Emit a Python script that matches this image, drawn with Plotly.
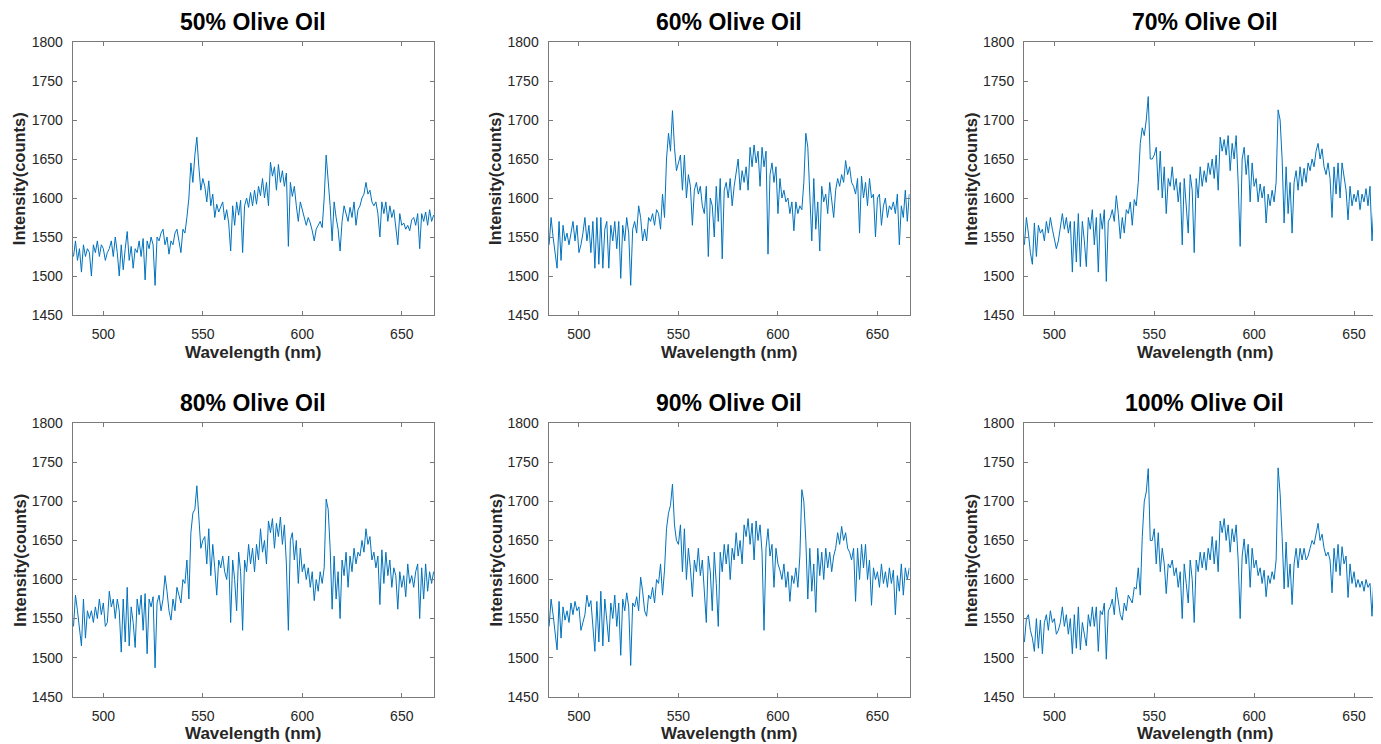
import plotly.graph_objects as go

OFF = 8  # page body margin in the browser
W, H = 1381 - OFF, 744 - OFF

wavelength = list(range(485, 667))

titles = ["50% Olive Oil", "60% Olive Oil", "70% Olive Oil",
          "80% Olive Oil", "90% Olive Oil", "100% Olive Oil"]

oil_50 = [1525,1545,1520,1535,1505,1540,1525,1535,1530,1500,1540,1530,1545,1525,1540,
          1535,1520,1530,1535,1545,1525,1550,1530,1500,1540,1508,1535,1557,1520,1538,
          1510,1535,1530,1545,1525,1548,1495,1545,1535,1550,1540,1488,1550,1545,1555,
          1560,1540,1550,1528,1545,1540,1555,1560,1545,1530,1560,1555,1575,1600,1645,
          1620,1655,1678,1640,1610,1625,1615,1595,1622,1590,1605,1575,1592,1582,1590,
          1595,1572,1585,1568,1532,1590,1565,1595,1578,1597,1530,1590,1600,1588,1607,
          1590,1610,1592,1615,1603,1625,1600,1620,1590,1646,1628,1640,1610,1643,1620,
          1635,1615,1632,1538,1620,1602,1615,1590,1570,1595,1585,1578,1565,1575,1568,
          1558,1545,1560,1566,1570,1562,1600,1655,1625,1590,1545,1595,1575,1560,1532,
          1570,1590,1580,1570,1588,1575,1595,1565,1585,1590,1600,1605,1620,1605,1610,
          1595,1590,1595,1580,1550,1595,1580,1595,1570,1590,1575,1585,1560,1540,1580,
          1565,1568,1560,1565,1558,1572,1575,1565,1580,1535,1580,1570,1582,1565,1585,
          1570,1578]

oil_60 = [1540,1575,1550,1530,1510,1570,1520,1565,1545,1555,1540,1555,1570,1545,1565,
          1530,1540,1555,1575,1545,1565,1530,1570,1510,1575,1515,1575,1510,1560,1570,
          1510,1565,1545,1570,1535,1570,1497,1565,1545,1575,1555,1488,1560,1570,1555,
          1590,1575,1545,1560,1545,1575,1570,1580,1565,1585,1580,1560,1605,1575,1650,
          1683,1660,1712,1665,1635,1645,1655,1610,1655,1600,1630,1615,1565,1610,1620,
          1605,1615,1590,1580,1615,1525,1600,1590,1550,1615,1570,1625,1522,1610,1620,
          1600,1625,1590,1615,1630,1650,1610,1635,1620,1640,1610,1665,1640,1668,1645,
          1660,1615,1665,1640,1660,1528,1630,1645,1620,1640,1580,1625,1600,1610,1595,
          1600,1580,1595,1558,1595,1580,1590,1585,1620,1683,1665,1610,1545,1625,1560,
          1595,1532,1615,1595,1605,1580,1620,1600,1575,1610,1625,1615,1630,1620,1648,
          1630,1640,1620,1615,1605,1625,1555,1628,1600,1620,1590,1625,1600,1605,1550,
          1600,1605,1565,1590,1600,1575,1590,1585,1595,1580,1605,1540,1590,1575,1610,
          1570,1605,1590,1605][:182]

oil_70 = [1540,1575,1555,1530,1515,1568,1525,1565,1555,1560,1545,1570,1555,1575,1560,
          1545,1535,1545,1560,1580,1560,1575,1555,1570,1505,1570,1518,1580,1512,1570,
          1545,1512,1575,1560,1585,1540,1575,1505,1580,1560,1585,1493,1570,1575,1585,
          1570,1603,1580,1548,1575,1555,1585,1580,1595,1565,1598,1590,1620,1670,1690,
          1680,1700,1730,1650,1650,1655,1665,1610,1660,1600,1640,1580,1625,1615,1640,
          1610,1625,1595,1620,1540,1625,1595,1555,1630,1610,1530,1625,1600,1640,1615,
          1635,1620,1645,1630,1650,1625,1655,1610,1678,1660,1675,1655,1680,1635,1670,
          1650,1680,1620,1538,1650,1665,1630,1655,1595,1645,1615,1625,1595,1618,1600,
          1615,1568,1605,1590,1610,1595,1620,1713,1700,1650,1568,1640,1580,1620,1555,
          1620,1635,1610,1640,1615,1638,1620,1645,1635,1650,1640,1660,1670,1650,1663,
          1640,1630,1645,1625,1575,1640,1605,1645,1600,1645,1625,1610,1572,1615,1590,
          1605,1595,1610,1585,1605,1595,1612,1590,1615,1545,1595,1580,1615,1600,1610,
          1600,1605]

oil_80 = [1540,1580,1560,1535,1515,1575,1525,1560,1550,1560,1545,1565,1550,1575,1555,
          1570,1540,1545,1585,1565,1575,1550,1575,1560,1507,1575,1520,1590,1515,1565,
          1545,1513,1575,1555,1580,1535,1582,1505,1575,1565,1578,1487,1570,1580,1560,
          1575,1605,1585,1560,1548,1575,1560,1590,1580,1570,1600,1595,1625,1575,1660,
          1685,1690,1720,1680,1640,1650,1655,1620,1665,1605,1645,1615,1580,1625,1615,
          1630,1610,1600,1630,1545,1625,1600,1560,1635,1610,1535,1625,1610,1645,1620,
          1640,1610,1645,1625,1665,1635,1650,1620,1675,1660,1678,1640,1672,1655,1680,
          1645,1670,1620,1535,1650,1660,1625,1650,1595,1640,1610,1620,1600,1615,1590,
          1610,1573,1600,1585,1610,1595,1615,1703,1690,1640,1562,1630,1575,1610,1550,
          1625,1605,1635,1590,1630,1610,1640,1620,1635,1630,1650,1635,1665,1645,1655,
          1625,1635,1615,1630,1568,1638,1595,1635,1605,1625,1590,1615,1605,1562,1610,
          1590,1605,1578,1620,1595,1605,1590,1610,1620,1550,1615,1575,1620,1585,1610,
          1595,1610]

oil_90 = [1540,1575,1555,1530,1510,1572,1525,1565,1548,1560,1545,1570,1555,1572,1560,
          1565,1535,1545,1555,1580,1565,1573,1540,1508,1572,1520,1585,1515,1575,1545,
          1520,1570,1550,1580,1540,1570,1503,1575,1560,1583,1565,1490,1570,1565,1578,
          1560,1603,1585,1560,1553,1580,1575,1590,1570,1600,1595,1620,1580,1612,1665,
          1685,1695,1722,1670,1650,1645,1670,1610,1665,1600,1640,1615,1578,1625,1610,
          1640,1605,1625,1590,1545,1630,1610,1560,1635,1595,1540,1635,1610,1645,1620,
          1645,1600,1640,1625,1660,1630,1650,1620,1670,1655,1678,1645,1672,1625,1675,
          1650,1670,1635,1535,1640,1665,1630,1645,1590,1640,1620,1612,1600,1620,1590,
          1610,1572,1605,1595,1615,1590,1630,1715,1700,1650,1575,1640,1585,1620,1558,
          1640,1605,1635,1600,1640,1615,1635,1610,1630,1640,1660,1645,1668,1650,1660,
          1640,1635,1625,1640,1572,1640,1600,1645,1615,1645,1600,1625,1567,1615,1600,
          1610,1590,1620,1595,1610,1590,1615,1595,1612,1555,1605,1585,1620,1580,1615,
          1600,1615]

oil_100 = [1520,1550,1555,1535,1525,1508,1550,1512,1548,1505,1545,1555,1535,1560,1545,
           1550,1530,1535,1545,1565,1540,1555,1530,1550,1505,1555,1512,1565,1510,1545,
           1530,1515,1555,1540,1565,1540,1565,1508,1560,1555,1570,1498,1560,1565,1575,
           1555,1590,1570,1555,1548,1570,1560,1580,1575,1570,1590,1588,1615,1580,1655,
           1700,1712,1742,1650,1650,1665,1620,1660,1610,1640,1620,1582,1620,1615,1625,
           1605,1615,1590,1610,1550,1620,1595,1570,1625,1600,1545,1625,1610,1635,1615,
           1635,1612,1640,1625,1655,1620,1650,1610,1675,1660,1678,1650,1670,1635,1665,
           1648,1670,1625,1550,1630,1652,1620,1645,1590,1640,1615,1625,1605,1615,1595,
           1612,1578,1605,1595,1610,1600,1625,1743,1710,1655,1588,1648,1590,1620,1568,
           1620,1640,1615,1640,1625,1640,1625,1630,1640,1650,1645,1660,1672,1650,1658,
           1640,1630,1635,1625,1583,1640,1610,1645,1605,1642,1620,1630,1577,1620,1595,
           1610,1590,1600,1590,1598,1585,1600,1590,1595,1553,1605,1575,1600,1585,1605,
           1600,1605]

series = [oil_50, oil_60, oil_70, oil_80, oil_90, oil_100]

x_ticks = [500, 550, 600, 650]
y_ticks = [1450, 1500, 1550, 1600, 1650, 1700, 1750, 1800]

# pixel geometry of plot areas (in screen pixels of the target)
col_px = [(72.7, 434.0), (548.5, 909.5), (1024.0, 1381.0)]
col_ranges = [(484.6, 666.2), (484.7, 666.1), (484.8, 663.5)]
row_px = [(42.0, 315.0), (423.3, 696.7)]


def fx(px):
    return min((px - OFF) / W, 1.0)


def fy(py):
    return 1 - (py - OFF) / H


FONT = "Liberation Sans, Arial, sans-serif"
TXT = "#262626"
AX = "#7a7a7a"

fig = go.Figure()
annotations = []
for i, (title, ys) in enumerate(zip(titles, series)):
    r, c = divmod(i, 3)
    n = i + 1
    xa = "x" if n == 1 else f"x{n}"
    ya = "y" if n == 1 else f"y{n}"
    fig.add_trace(go.Scatter(x=wavelength[:len(ys)], y=ys, mode="lines",
                             line=dict(color="#0072BD", width=1),
                             xaxis=xa, yaxis=ya, showlegend=False,
                             hoverinfo="skip"))
    x0, x1 = col_px[c]
    y0, y1 = row_px[r]
    common = dict(showgrid=False, zeroline=False, showline=True, mirror="ticks",
                  automargin=False,
                  linecolor=AX, linewidth=1, ticks="inside", ticklen=4,
                  tickcolor=AX, tickfont=dict(family=FONT, size=14, color=TXT))
    fig.layout[f"xaxis{'' if n == 1 else n}"] = dict(
        domain=[fx(x0), fx(x1)], range=list(col_ranges[c]),
        tickvals=x_ticks, anchor=ya, ticklabelstandoff=6, **common)
    fig.layout[f"yaxis{'' if n == 1 else n}"] = dict(
        domain=[fy(y1), fy(y0)], range=[1450, 1800],
        tickvals=y_ticks, anchor=xa, ticklabelstandoff=6, **common)
    xc = fx(x0 + 180.7)
    annotations.append(dict(text=f"<b>{title}</b>", x=xc, y=fy(y0 - 20),
                            xref="paper", yref="paper", showarrow=False,
                            xanchor="center", yanchor="middle",
                            font=dict(family=FONT, size=23, color="#000000")))
    annotations.append(dict(text="<b>Wavelength (nm)</b>", x=xc, y=fy(y1 + 37),
                            xref="paper", yref="paper", showarrow=False,
                            xanchor="center", yanchor="middle",
                            font=dict(family=FONT, size=17, color=TXT)))
    annotations.append(dict(text="<b>Intensity(counts)</b>", x=fx(x0 - 53),
                            y=fy((y0 + y1) / 2), textangle=-90,
                            xref="paper", yref="paper", showarrow=False,
                            xanchor="center", yanchor="middle",
                            font=dict(family=FONT, size=16.5, color=TXT)))

fig.update_layout(template="none", width=W, height=H,
                  margin=dict(l=0, r=0, t=0, b=0, pad=0),
                  paper_bgcolor="white", plot_bgcolor="white",
                  annotations=annotations)

fig.write_html("out.html", config={"displayModeBar": False})
